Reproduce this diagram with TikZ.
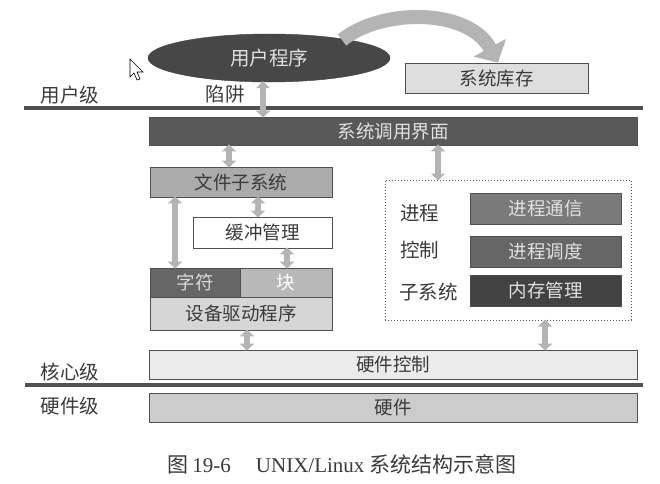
\documentclass[tikz,border=0pt]{standalone}
\usepackage{fontspec}
\setmainfont{Noto Sans CJK SC}
\newfontfamily\latinserif{Liberation Serif}
\usetikzlibrary{arrows.meta,shapes.geometric}
\definecolor{bdr}{HTML}{505050}
\definecolor{arw}{HTML}{B4B4B4}
\definecolor{txtlight}{HTML}{E0E0E0}
\definecolor{txtdark}{HTML}{3A3A3A}
\tikzset{
  box/.style={draw=bdr, line width=0.8pt, minimum height=#1, inner sep=0pt, font=\fontsize{18.5}{20}\selectfont, text=txtdark},
  dbl/.style={draw=arw, line width=5.5pt, {Triangle[width=14pt,length=7pt]}-{Triangle[width=14pt,length=7pt]}, shorten <=-1pt, shorten >=-1pt},
  bigarrow/.style={draw=arw, line width=14pt, -{Triangle[width=36pt,length=17pt]}},
  level/.style={draw=bdr, line width=3.5pt},
  lbl/.style={font=\fontsize{19.5}{21}\selectfont, text=txtdark, inner sep=0pt}
}
\begin{document}
\begin{tikzpicture}[x=1pt,y=-1pt]
\useasboundingbox (0,0) rectangle (660,483);
\fill[white] (0,0) rectangle (660,483);
% cursor
\draw[black, line width=0.6pt, fill=white] (130,59) -- (130,77) -- (134,73) -- (137,80) -- (140,79) -- (137,72) -- (143,72) -- cycle;
% user program
\node[ellipse, fill=black!72, draw=black!75, minimum width=242, minimum height=48, inner sep=0pt, text=txtlight, font=\fontsize{19.5}{21}\selectfont] (up) at (269,58) {用户程序};
\node[box=30, fill=black!13, minimum width=183] (lib) at (496.5,78) {系统库存};
\coordinate (arcS) at (342,40);
\draw[bigarrow] (arcS) .. controls (382,8) and (468,8) .. (lib.north -| 498,0);
\node[lbl] (trap) at (225,94) {陷阱};
% level lines
\coordinate (l1a) at (24,108); \coordinate (l1b) at (643,108);
\draw[level] (l1a) -- (l1b);
\node[lbl] (ul) at (70,95) {用户级};
\coordinate (l2a) at (25,385); \coordinate (l2b) at (643,385);
\draw[level] (l2a) -- (l2b);
\node[lbl] (kl) at (70,372) {核心级};
\node[lbl] (hl) at (70,406) {硬件级};
% system call interface
\node[box=28, fill=black!65, minimum width=488, text=txtlight] (sci) at (393,131) {系统调用界面};
\coordinate (xa) at (263,0);
\draw[dbl] (up.south -| xa) -- (sci.north -| xa);
% file subsystem
\node[box=30, fill=black!33, minimum width=182] (fs) at (241,182) {文件子系统};
\coordinate (xb) at (229,0);
\draw[dbl] (sci.south -| xb) -- (fs.north -| xb);
\node[box=31, fill=white, minimum width=139] (buf) at (262.5,232.5) {缓冲管理};
\coordinate (xc) at (258,0);
\draw[dbl] (fs.south -| xc) -- (buf.north -| xc);
\node[box=29, fill=black!60, minimum width=90, text=black!15] (chr) at (195,282.5) {字符};
\node[box=29, fill=black!28, minimum width=92, text=white] (blk) at (286,282.5) {块};
\node[box=33, fill=black!16, minimum width=182] (dev) at (241,313.5) {设备驱动程序};
\coordinate (xd) at (287,0);
\draw[dbl] (buf.south -| xd) -- (blk.north -| xd);
\coordinate (xe) at (175,0);
\draw[dbl] (fs.south -| xe) -- (chr.north -| xe);
% process control subsystem
\node[draw=bdr, line width=1pt, dotted, minimum width=246, minimum height=140, inner sep=0pt] (pcs) at (508,250) {};
\coordinate (xf) at (438,0);
\draw[dbl] (sci.south -| xf) -- (pcs.north -| xf);
\node[lbl, anchor=west] (p1) at (400,213) {进程};
\node[lbl, anchor=west] (p2) at (400,250) {控制};
\node[lbl, anchor=west] (p3) at (399,292) {子系统};
\node[box=31, fill=black!52, minimum width=151, text=txtlight] (ipc) at (545.5,208.5) {进程通信};
\node[box=31, fill=black!60, minimum width=151, text=txtlight] (sch) at (545.5,251.5) {进程调度};
\node[box=31, fill=black!74, minimum width=151, text=txtlight] (mem) at (545.5,290.5) {内存管理};
% hardware control
\node[box=29, fill=black!8, minimum width=488] (hwc) at (393,364.5) {硬件控制};
\coordinate (xg) at (247,0);
\draw[dbl] (dev.south -| xg) -- (hwc.north -| xg);
\coordinate (xh) at (545,0);
\draw[dbl] (pcs.south -| xh) -- (hwc.north -| xh);
\node[box=29, fill=black!20, minimum width=488] (hw) at (393,407.5) {硬件};
% caption
\node[font=\fontsize{21}{23}\selectfont, text=txtdark, inner sep=0pt] (cap) at (342,464) {图\,{\latinserif 19-6}\hspace{1.2em}{\latinserif UNIX/Linux} 系统结构示意图};
\end{tikzpicture}
\end{document}
